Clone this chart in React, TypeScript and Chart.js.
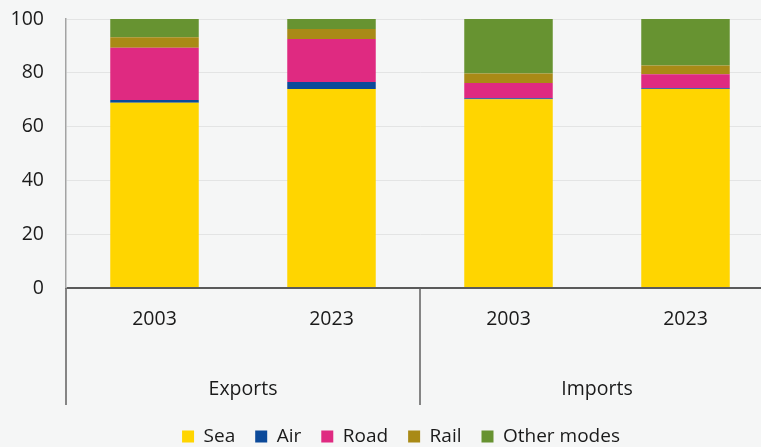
import React, { useEffect, useRef } from "react";
import { Chart, registerables } from "chart.js";
Chart.register(...registerables);

const categories = ["2003", "2023", "2003", "2023"];
const groups = ["Exports", "Imports"];
const sea = [68.9, 74.0, 70.2, 74.0];
const air = [1.0, 2.6, 0.3, 0.3];
const road = [19.4, 16.0, 5.7, 5.2];
const rail = [3.9, 3.7, 3.5, 3.2];
const other = [6.8, 3.7, 20.3, 17.3];
const yMin = 0;
const yMax = 100;
const yStep = 20;

const FONT = "'Open Sans', 'Noto Sans', sans-serif";
const TEXT = "#1a1a1a";

const multiLevel = {
  id: "multiLevel",
  afterDraw(chart: any) {
    const { ctx, chartArea } = chart;
    const x = chart.scales.x;
    const bottom = chartArea.bottom;
    const lineBottom = bottom + 117;
    const step = x.getPixelForValue(1) - x.getPixelForValue(0);
    ctx.save();
    ctx.strokeStyle = "#5f5f5f";
    ctx.lineWidth = 1.5;
    const bounds = [
      chartArea.left,
      x.getPixelForValue(1) + step / 2,
      x.getPixelForValue(3) + step / 2,
    ];
    bounds.forEach((b) => {
      ctx.beginPath();
      ctx.moveTo(b, bottom);
      ctx.lineTo(b, lineBottom);
      ctx.stroke();
    });
    ctx.font = `19.5px ${FONT}`;
    ctx.fillStyle = TEXT;
    ctx.textAlign = "center";
    ctx.textBaseline = "middle";
    categories.forEach((c, i) => {
      ctx.fillText(c, x.getPixelForValue(i), bottom + 31);
    });
    groups.forEach((g, k) => {
      const cx = (x.getPixelForValue(2 * k) + x.getPixelForValue(2 * k + 1)) / 2;
      ctx.fillText(g, cx, bottom + 101);
    });
    ctx.restore();
  },
};

export default function App() {
  const ref = useRef<HTMLCanvasElement | null>(null);
  useEffect(() => {
    if (!ref.current) return;
    const mk = (label: string, data: number[], color: string) => ({
      label,
      data,
      backgroundColor: color,
      borderWidth: 0,
      categoryPercentage: 0.5,
      barPercentage: 1,
    });
    const chart = new Chart(ref.current, {
      type: "bar",
      data: {
        labels: categories.map((c, i) => `${groups[Math.floor(i / 2)]} ${c}`),
        datasets: [
          mk("Sea", sea, "#ffd500"),
          mk("Air", air, "#0c4a9a"),
          mk("Road", road, "#df2a81"),
          mk("Rail", rail, "#a98a16"),
          mk("Other modes", other, "#679331"),
        ],
      },
      options: {
        animation: false,
        responsive: true,
        maintainAspectRatio: false,
        layout: { padding: { top: 19, right: 0, left: 0, bottom: 0 } },
        plugins: {
          tooltip: { enabled: false },
          legend: {
            position: "bottom",
            labels: {
              boxWidth: 12,
              boxHeight: 12,
              padding: 20,
              color: TEXT,
              font: { family: FONT, size: 19 },
            },
          },
        },
        scales: {
          x: {
            stacked: true,
            grid: { display: false },
            border: { display: false },
            ticks: { display: false },
            afterFit: (s: any) => {
              s.height = 119;
            },
          },
          y: {
            stacked: true,
            min: yMin,
            max: yMax,
            ticks: {
              stepSize: yStep,
              padding: 0,
              color: TEXT,
              font: { family: FONT, size: 19.5 },
            },
            grid: {
              drawTicks: true,
              tickLength: 22,
              tickColor: "rgba(0,0,0,0)",
              color: (c: any) => (c.tick && c.tick.value === 0 ? "#5a5a5a" : "#e3e4e4"),
              lineWidth: (c: any) => (c.tick && c.tick.value === 0 ? 2 : 1),
            },
            border: { display: true, color: "#a3a3a3", width: 1.5 },
            afterFit: (s: any) => {
              s.width = 66;
            },
          },
          yRight: {
            type: "linear",
            position: "right",
            display: true,
            grid: { display: false, drawTicks: false },
            border: { display: false },
            ticks: { display: false, padding: 0 },
            afterFit: (s: any) => {
              s.width = 28;
            },
          },
        },
      },
      plugins: [multiLevel],
    });
    return () => chart.destroy();
  }, []);
  return (
    <div
      style={{
        position: "absolute",
        left: 0,
        top: 0,
        width: 761,
        height: 447,
        overflow: "hidden",
        background: "#f5f6f6",
      }}
    >
      <div style={{ width: 802, height: 456, position: "relative" }}>
        <canvas ref={ref} />
      </div>
    </div>
  );
}
